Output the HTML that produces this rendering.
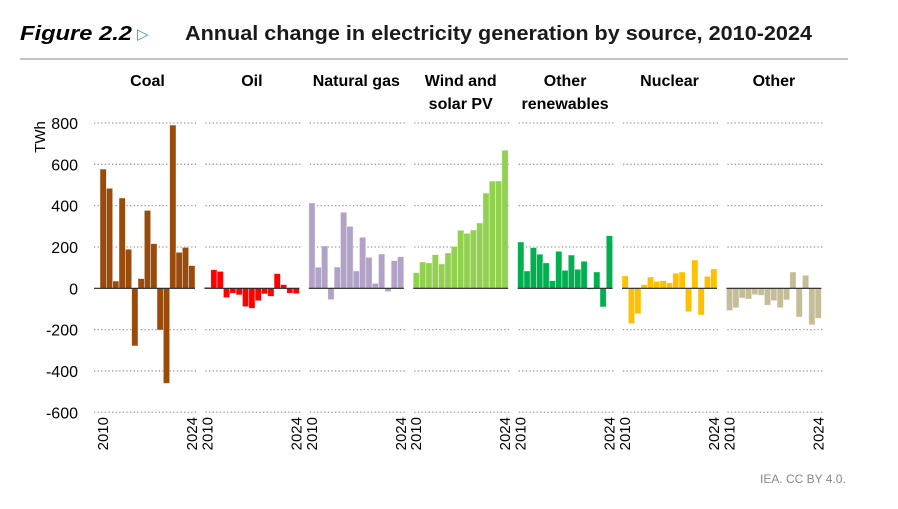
<!DOCTYPE html>
<html><head><meta charset="utf-8"><style>
body{margin:0;background:#fff;width:898px;height:504px;overflow:hidden;font-family:"Liberation Sans",sans-serif}
</style></head><body>
<svg id="chart" width="898" height="504" xmlns="http://www.w3.org/2000/svg" font-family="Liberation Sans, sans-serif">
<text x="20" y="40" font-size="20" font-weight="bold" font-style="italic" fill="#000" textLength="112" lengthAdjust="spacingAndGlyphs">Figure 2.2</text>
<text x="137" y="39" font-size="15" fill="#2a9fbf">▷</text>
<text x="185" y="40" font-size="20" font-weight="bold" fill="#1a1a1a" textLength="627" lengthAdjust="spacingAndGlyphs">Annual change in electricity generation by source, 2010-2024</text>
<line x1="20" y1="59" x2="848" y2="59" stroke="#b0b0b0" stroke-width="1.5"/>
<text transform="translate(45,137) rotate(-90)" text-anchor="middle" font-size="15" fill="#000">TWh</text>
<g id="yticks"></g>
<g id="panels"></g>
<text x="760" y="483" font-size="12" fill="#888">IEA. CC BY 4.0.</text>
</svg>
<script>
const sources=["Coal","Oil","Natural gas","Wind and|solar PV","Other|renewables","Nuclear","Other"];
const colors=["#9a4a0a","#ff0000","#b3a2c7","#92d050","#00b050","#ffc000","#c4bd97"];
const yTicks=[800,600,400,200,0,-200,-400,-600];
const coal=[577,484,35,437,189,-279,47,377,216,-202,-460,790,174,198,110];
const oil=[5,90,82,-45,-24,-32,-89,-97,-60,-27,-39,71,18,-24,-26];
const gas=[413,102,205,-55,103,368,300,84,247,150,24,166,-16,134,153];
const windSolar=[76,127,123,163,118,171,203,281,266,282,316,461,519,519,668];
const otherRen=[224,84,197,165,123,37,179,87,161,92,131,-5,79,-90,255];
const nuclear=[60,-171,-123,18,55,34,37,27,73,79,-113,137,-129,58,94];
const other=[-108,-94,-47,-52,-31,-34,-82,-60,-94,-56,79,-139,63,-177,-145];
const series=[coal,oil,gas,windSolar,otherRen,nuclear,other];
const NS="http://www.w3.org/2000/svg";
const y=v=>288.3-v*(165.3/800);
const panelX=i=>100+i*104.4;
const bw=95/15;
const svg=document.getElementById('chart');
const yt=document.getElementById('yticks');
yTicks.forEach(t=>{
 const tx=document.createElementNS(NS,'text');
 
 
 tx.setAttribute('x',78);tx.setAttribute('y',y(t)+6);tx.setAttribute('text-anchor','end');
 tx.setAttribute('font-size','16');tx.textContent=t;yt.appendChild(tx);
});
const pg=document.getElementById('panels');
series.forEach((data,i)=>{
 const x0=panelX(i);
 const g=document.createElementNS(NS,'g');
 
 
 pg.appendChild(g);
 sources[i].split('|').forEach((ln,k)=>{
  const t=document.createElementNS(NS,'text');
  
  
  t.setAttribute('x',x0+47.5);t.setAttribute('y',86+k*23);t.setAttribute('text-anchor','middle');
  t.setAttribute('font-size','16');t.setAttribute('font-weight','bold');t.textContent=ln;g.appendChild(t);
 });
 yTicks.forEach(tv=>{
  if(tv===0)return;
  const l=document.createElementNS(NS,'line');
  
  
  l.setAttribute('x1',i===0?x0-6:x0+1);l.setAttribute('x2',x0+96);l.setAttribute('y1',y(tv));l.setAttribute('y2',y(tv));
  l.setAttribute('stroke','#999');l.setAttribute('stroke-width','1.3');l.setAttribute('stroke-dasharray','1.3 2.3');g.appendChild(l);
 });
 data.forEach((v,j)=>{
  const r=document.createElementNS(NS,'rect');
  
  
  r.setAttribute('x',x0+j*bw);r.setAttribute('width',bw);
  r.setAttribute('y',Math.min(y(v),y(0)));r.setAttribute('height',Math.abs(y(v)-y(0)));
  r.setAttribute('fill',colors[i]);r.setAttribute('stroke','#fff');r.setAttribute('stroke-opacity','0.6');r.setAttribute('stroke-width','0.7');
  g.appendChild(r);
 });
 const z=document.createElementNS(NS,'line');
 
 
 z.setAttribute('x1',i===0?x0-6:x0);z.setAttribute('x2',x0+95);z.setAttribute('y1',y(0));z.setAttribute('y2',y(0));
 z.setAttribute('stroke','#222');z.setAttribute('stroke-width','1.2');g.appendChild(z);
 [[2010,x0+3],[2024,x0+92]].forEach(([yr,xx])=>{
  const t=document.createElementNS(NS,'text');
  
  
  t.setAttribute('transform','translate('+(xx+5)+',417) rotate(-90)');t.setAttribute('text-anchor','end');
  t.setAttribute('font-size','15');t.textContent=yr;g.appendChild(t);
 });
});
</script>
</body></html>
